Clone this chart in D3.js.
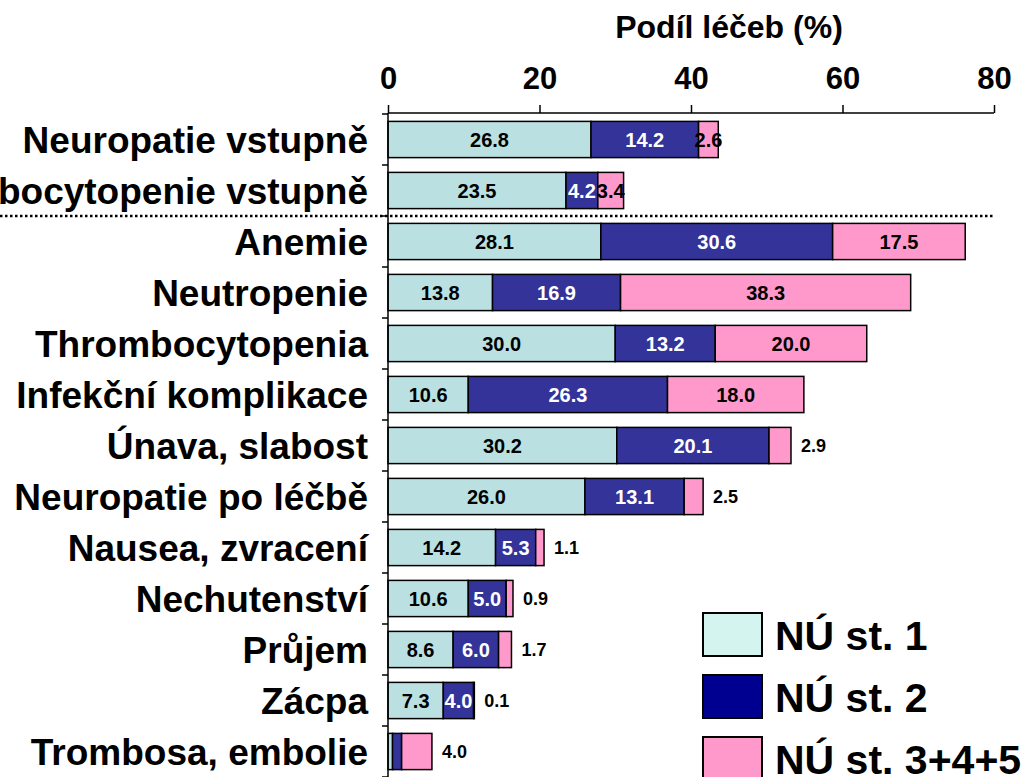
<!DOCTYPE html>
<html>
<head>
<meta charset="utf-8">
<script src="https://cdn.jsdelivr.net/npm/d3@7"></script>
<style>
body { margin: 0; background: #fff; }
text { font-family: "Liberation Sans", Arial, sans-serif; font-weight: bold; }
</style>
</head>
<body>
<script>
/* stacked bars - podil lecEb podle stupne NU */

var categories = ["Neuropatie vstupně", "Thrombocytopenie vstupně", "Anemie", "Neutropenie",
    "Thrombocytopenia", "Infekční komplikace", "Únava, slabost", "Neuropatie po léčbě",
    "Nausea, zvracení", "Nechutenství", "Průjem", "Zácpa", "Trombosa, embolie"];
var grade1 = [26.8, 23.5, 28.1, 13.8, 30.0, 10.6, 30.2, 26.0, 14.2, 10.6, 8.6, 7.3, 0.6];
var grade2 = [14.2, 4.2, 30.6, 16.9, 13.2, 26.3, 20.1, 13.1, 5.3, 5.0, 6.0, 4.0, 1.2];
var grade345 = [2.6, 3.4, 17.5, 38.3, 20.0, 18.0, 2.9, 2.5, 1.1, 0.9, 1.7, 0.1, 4.0];
var seriesNames = ["NÚ st. 1", "NÚ st. 2", "NÚ st. 3+4+5"];
var xTicks = [0, 20, 40, 60, 80];

var barColors = ["#bae0e1", "#333399", "#ff99cc"];
var legendColors = ["#d4f5ef", "#000090", "#ff99cc"];
var labelColors = ["#000", "#fff", "#000"];

var width = 1033, height = 777;

var svg = d3.select("body").append("svg")
    .attr("width", width)
    .attr("height", height);

var x = d3.scaleLinear().domain([0, 80]).range([388, 994]);
var y = d3.scaleBand().domain(categories).range([114, 777])
    .paddingInner(0.29).paddingOuter(0.145);

var rows = categories.map(function(c, i) {
    return { cat: c, i: i, vals: [grade1[i], grade2[i], grade345[i]] };
});

// segments
rows.forEach(function(r) {
    var start = 0;
    r.vals.forEach(function(v, k) {
        r["s" + k] = start;
        start += v;
    });
    r.total = start;
});

var g = svg.append("g");

rows.forEach(function(r) {
    r.vals.forEach(function(v, k) {
        g.append("rect")
            .attr("x", x(r["s" + k]))
            .attr("y", y(r.cat))
            .attr("width", x(r["s" + k] + v) - x(r["s" + k]))
            .attr("height", y.bandwidth())
            .attr("fill", barColors[k])
            .attr("stroke", "#000")
            .attr("stroke-width", 1.5);
    });
});

// value labels
rows.forEach(function(r) {
    r.vals.forEach(function(v, k) {
        if (v < 2 && k < 2) return;
        var outside = (k == 2 && r.i > 1 && v < 5);
        var lx, anchor, col;
        if (outside) {
            lx = x(r.total) + 10;
            anchor = "start";
            col = "#000";
        } else {
            lx = (x(r["s" + k]) + x(r["s" + k] + v)) / 2;
            anchor = "middle";
            col = labelColors[k];
        }
        g.append("text")
            .attr("x", lx)
            .attr("y", y(r.cat) + y.bandwidth() / 2)
            .attr("dy", "0.36em")
            .attr("text-anchor", anchor)
            .attr("fill", col)
            .style("font-size", outside ? "18px" : "20px")
            .text(v.toFixed(1));
    });
});

// top axis
var xAxis = d3.axisTop(x).tickValues(xTicks).tickSize(8).tickPadding(16);
var ax = svg.append("g").attr("transform", "translate(0,113)").call(xAxis);
ax.select(".domain").attr("stroke", "#000").attr("stroke-width", 1.5)
    .attr("d", "M" + x(0) + ",0H" + x(80));
ax.selectAll(".tick line").attr("stroke-width", 1.5);
ax.selectAll(".tick text")
    .style("font-family", "'Liberation Sans', Arial, sans-serif")
    .style("font-weight", "bold")
    .style("font-size", "31px")
    .attr("fill", "#000");

svg.append("text")
    .attr("x", 729)
    .attr("y", 38)
    .attr("text-anchor", "middle")
    .style("font-size", "32px")
    .text("Podíl léčeb (%)");

// left axis with ticks between categories
var step = y.step();
var bounds = categories.map(function(c) { return y(c) - step * 0.145; });
bounds.push(bounds[bounds.length - 1] + step);
svg.append("line")
    .attr("x1", x(0)).attr("x2", x(0))
    .attr("y1", 113).attr("y2", height)
    .attr("stroke", "#000").attr("stroke-width", 1.5);
svg.selectAll(".ytick").data(bounds).enter().append("line")
    .attr("class", "ytick")
    .attr("x1", x(0) - 6).attr("x2", x(0))
    .attr("y1", function(d) { return d; }).attr("y2", function(d) { return d; })
    .attr("stroke", "#000").attr("stroke-width", 1.5);

svg.selectAll(".ylab").data(categories).enter().append("text")
    .attr("class", "ylab")
    .attr("x", 368)
    .attr("y", function(d) { return y(d) + y.bandwidth() / 2; })
    .attr("dy", "0.36em")
    .attr("text-anchor", "end")
    .style("font-size", "37px")
    .text(function(d) { return d; });

// dotted separator between baseline rows and treatment rows
svg.append("line")
    .attr("x1", 0).attr("x2", x(80))
    .attr("y1", bounds[2]).attr("y2", bounds[2])
    .attr("stroke", "#000").attr("stroke-width", 2.5)
    .attr("stroke-dasharray", "2.5,2.5");

// legend
var leg = svg.append("g");
seriesNames.forEach(function(s, k) {
    leg.append("rect")
        .attr("x", 703).attr("y", 613 + k * 62)
        .attr("width", 59).attr("height", 43)
        .attr("fill", legendColors[k])
        .attr("stroke", "#000").attr("stroke-width", 2);
    leg.append("text")
        .attr("x", 775).attr("y", 635 + k * 62)
        .attr("dy", "0.36em")
        .style("font-size", "41px")
        .text(s);
});
</script>
</body>
</html>
